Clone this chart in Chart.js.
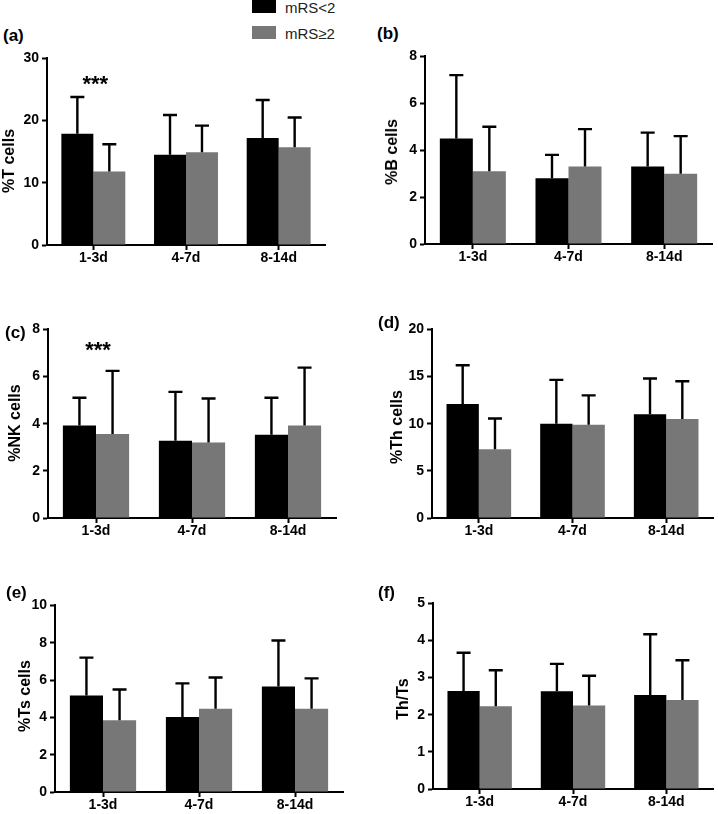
<!DOCTYPE html>
<html>
<head>
<meta charset="utf-8">
<script src="https://cdn.jsdelivr.net/npm/chart.js@4.4.1/dist/chart.umd.min.js"></script>
<style>
body { margin: 0; background: #fff; width: 718px; height: 814px; position: relative; overflow: hidden;
       font-family: "Liberation Sans", Arial, sans-serif; }
canvas { position: absolute; }
.lbl { position: absolute; font-weight: bold; font-size: 17px; line-height: 1; }
.ytitle { position: absolute; font-weight: bold; font-size: 16px; line-height: 1; white-space: nowrap;
          transform: translate(-50%, -50%) rotate(-90deg); }
.swatch { position: absolute; width: 24px; height: 13px; }
.legtext { position: absolute; font-size: 15px; line-height: 1; color: #222; }
</style>
</head>
<body>
<div class="swatch" style="left:252px;top:0px;background:#000"></div>
<div class="legtext" style="left:285px;top:0px">mRS&lt;2</div>
<div class="swatch" style="left:252px;top:26px;background:#777"></div>
<div class="legtext" style="left:285px;top:26px">mRS≥2</div>
<script>
const categories = ['1-3d', '4-7d', '8-14d'];
const seriesNames = ['mRS<2', 'mRS≥2'];

// (a) %T cells
const tMild = [17.9, 14.5, 17.2];
const tMildSd = [5.9, 6.4, 6.1];
const tSevere = [11.8, 14.9, 15.7];
const tSevereSd = [4.4, 4.3, 4.8];
// (b) %B cells
const bMild = [4.5, 2.8, 3.3];
const bMildSd = [2.7, 1.0, 1.45];
const bSevere = [3.1, 3.3, 3.0];
const bSevereSd = [1.9, 1.6, 1.6];
// (c) %NK cells
const nkMild = [3.92, 3.28, 3.53];
const nkMildSd = [1.18, 2.07, 1.57];
const nkSevere = [3.56, 3.2, 3.92];
const nkSevereSd = [2.68, 1.87, 2.46];
// (d) %Th cells
const thMild = [12.1, 10.0, 11.0];
const thMildSd = [4.1, 4.65, 3.8];
const thSevere = [7.3, 9.9, 10.5];
const thSevereSd = [3.25, 3.1, 4.0];
// (e) %Ts cells
const tsMild = [5.17, 4.02, 5.66];
const tsMildSd = [2.03, 1.8, 2.46];
const tsSevere = [3.84, 4.46, 4.46];
const tsSevereSd = [1.65, 1.68, 1.63];
// (f) Th/Ts
const ratioMild = [2.64, 2.63, 2.53];
const ratioMildSd = [1.03, 0.74, 1.64];
const ratioSevere = [2.23, 2.25, 2.4];
const ratioSevereSd = [0.97, 0.8, 1.07];

const panels = [
    { tag: '(a)', title: '%T cells', mild: tMild, mildSd: tMildSd, severe: tSevere, severeSd: tSevereSd,
      max: 30, step: 10, stars: 26.6, col: 0, axisX: 47, axisEnd: 325, yTop: 57, yZero: 245,
      tagPos: [3, 27], titlePos: [9, 161] },
    { tag: '(b)', title: '%B cells', mild: bMild, mildSd: bMildSd, severe: bSevere, severeSd: bSevereSd,
      max: 8, step: 2, col: 360, axisX: 425, axisEnd: 712, yTop: 55, yZero: 244,
      tagPos: [377, 25], titlePos: [392, 152] },
    { tag: '(c)', title: '%NK cells', mild: nkMild, mildSd: nkMildSd, severe: nkSevere, severeSd: nkSevereSd,
      max: 8, step: 2, stars: 7.3, col: 0, axisX: 48, axisEnd: 336, yTop: 328, yZero: 518,
      tagPos: [5, 324], titlePos: [15, 423] },
    { tag: '(d)', title: '%Th cells', mild: thMild, mildSd: thMildSd, severe: thSevere, severeSd: thSevereSd,
      max: 20, step: 5, col: 360, axisX: 432, axisEnd: 713, yTop: 328, yZero: 518,
      tagPos: [378, 314], titlePos: [397, 427] },
    { tag: '(e)', title: '%Ts cells', mild: tsMild, mildSd: tsMildSd, severe: tsSevere, severeSd: tsSevereSd,
      max: 10, step: 2, col: 0, axisX: 55, axisEnd: 343, yTop: 604, yZero: 792,
      tagPos: [6, 584], titlePos: [25, 696] },
    { tag: '(f)', title: 'Th/Ts', mild: ratioMild, mildSd: ratioMildSd, severe: ratioSevere, severeSd: ratioSevereSd,
      max: 5, step: 1, col: 360, axisX: 433, axisEnd: 713, yTop: 602, yZero: 789,
      tagPos: [378, 584], titlePos: [403, 699] }
];

const errorBars = {
    id: 'errorBars',
    afterDatasetsDraw(chart) {
        const ctx = chart.ctx;
        const y = chart.scales.y;
        chart.data.datasets.forEach((ds, i) => {
            chart.getDatasetMeta(i).data.forEach((bar, j) => {
                const top = y.getPixelForValue(ds.data[j] + ds.sd[j]);
                ctx.save();
                ctx.strokeStyle = '#000';
                ctx.lineWidth = 2.4;
                ctx.beginPath();
                ctx.moveTo(bar.x, bar.y);
                ctx.lineTo(bar.x, top);
                ctx.moveTo(bar.x - 7, top);
                ctx.lineTo(bar.x + 7, top);
                ctx.stroke();
                ctx.restore();
            });
        });
    }
};

const stars = {
    id: 'stars',
    afterDraw(chart, args, opts) {
        if (opts.value == null) return;
        const ctx = chart.ctx;
        const x = chart.scales.x.getPixelForValue(0);
        const y = chart.scales.y.getPixelForValue(opts.value);
        ctx.save();
        ctx.fillStyle = '#000';
        ctx.font = 'bold 22px "Liberation Sans", Arial';
        ctx.textAlign = 'center';
        ctx.textBaseline = 'middle';
        ctx.fillText('***', x + 2, y + 5);
        ctx.restore();
    }
};

const tickFont = { family: '"Liberation Sans", Arial', size: 14, weight: 'bold' };

for (let p of panels) {
    const top = p.yTop - 10;
    const canvas = document.createElement('canvas');
    const w = p.axisEnd - p.col + 5;
    const h = p.yZero - top + 30;
    canvas.width = w;
    canvas.height = h;
    canvas.style.left = p.col + 'px';
    canvas.style.top = top + 'px';
    canvas.style.width = w + 'px';
    canvas.style.height = h + 'px';
    document.body.appendChild(canvas);

    const tag = document.createElement('div');
    tag.className = 'lbl';
    tag.textContent = p.tag;
    tag.style.left = p.tagPos[0] + 'px';
    tag.style.top = p.tagPos[1] + 'px';
    document.body.appendChild(tag);

    const title = document.createElement('div');
    title.className = 'ytitle';
    title.textContent = p.title;
    title.style.left = p.titlePos[0] + 'px';
    title.style.top = p.titlePos[1] + 'px';
    document.body.appendChild(title);

    new Chart(canvas.getContext('2d'), {
        type: 'bar',
        data: {
            labels: categories,
            datasets: [{
                label: seriesNames[0],
                data: p.mild,
                sd: p.mildSd,
                backgroundColor: '#000'
            }, {
                label: seriesNames[1],
                data: p.severe,
                sd: p.severeSd,
                backgroundColor: '#777'
            }]
        },
        options: {
            responsive: false,
            animation: false,
            categoryPercentage: 0.69,
            barPercentage: 1.0,
            layout: { padding: { top: 10, right: 5, left: 0, bottom: 0 } },
            plugins: {
                legend: { display: false },
                tooltip: { enabled: false },
                stars: { value: p.stars }
            },
            scales: {
                x: {
                    grid: { display: true, drawOnChartArea: false, offset: false, tickLength: 5, tickWidth: 2, tickColor: '#000' },
                    border: { display: true, color: '#000', width: 2 },
                    ticks: { color: '#000', font: tickFont, padding: 0 },
                    afterFit: (scale) => { scale.height = 30; }
                },
                y: {
                    min: 0,
                    max: p.max,
                    ticks: { stepSize: p.step, color: '#000', font: tickFont, padding: 3 },
                    grid: { display: true, drawOnChartArea: false, tickLength: 5, tickWidth: 2, tickColor: '#000' },
                    border: { display: true, color: '#000', width: 2 },
                    afterFit: (scale) => { scale.width = p.axisX - p.col; }
                }
            }
        },
        plugins: [errorBars, stars]
    });
}
</script>
</body>
</html>
